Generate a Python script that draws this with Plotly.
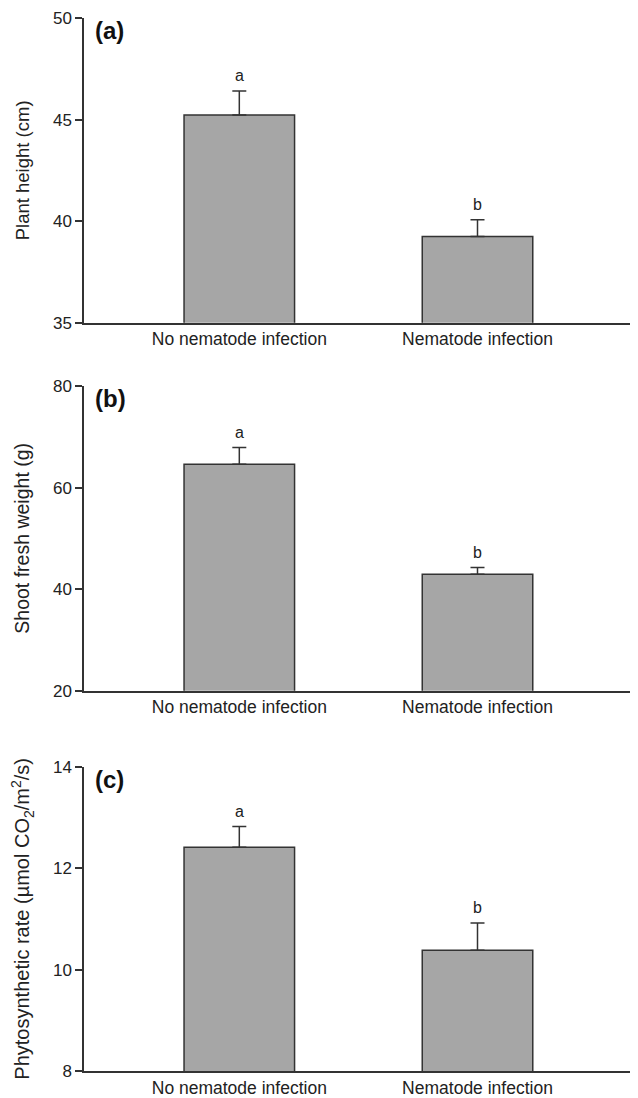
import plotly.graph_objects as go
from plotly.subplots import make_subplots

categories = ["No nematode infection", "Nematode infection"]
plant_height = [45.23, 39.24]
plant_height_err = [1.18, 0.83]
shoot_weight = [64.6, 42.95]
shoot_weight_err = [3.27, 1.3]
photo_rate = [12.41, 10.38]
photo_rate_err = [0.41, 0.54]
sig_letters = ["a", "b"]

panels = [
    dict(vals=plant_height, err=plant_height_err, rng=[35, 50], dtick=5,
         title="Plant height (cm)", tag="(a)", tsize=18.5),
    dict(vals=shoot_weight, err=shoot_weight_err, rng=[20, 80], dtick=20,
         title="Shoot fresh weight (g)", tag="(b)", tsize=19.5),
    dict(vals=photo_rate, err=photo_rate_err, rng=[8, 14], dtick=2,
         title="Phytosynthetic rate (µmol CO<sub>2</sub>/m<sup>2</sup>/s)", tag="(c)", tsize=20),
]

# page body has an 8px margin; lay the figure out in page coordinates minus 8
OFF = 8
W, H = 638 - OFF, 1098 - OFF
px_domains = [(18, 322.7), (386, 690.7), (766.7, 1071)]
domains = [[1 - (b - OFF) / H, 1 - (t - OFF) / H] for t, b in px_domains]

FONT = "Liberation Sans, Arial, sans-serif"
DARK = "#333333"

fig = make_subplots(rows=3, cols=1)

for i, p in enumerate(panels, start=1):
    fig.add_trace(go.Bar(
        x=categories, y=p["vals"], width=0.464,
        marker=dict(color="#a6a6a6", line=dict(color=DARK, width=1.5)),
        error_y=dict(type="data", array=p["err"], arrayminus=[0, 0], symmetric=False,
                     color=DARK, thickness=1.5, width=7),
        showlegend=False,
    ), row=i, col=1)
    base = p["rng"][0]
    fig.update_yaxes(range=p["rng"], dtick=p["dtick"], tick0=base, row=i, col=1,
                     showline=True, linecolor=DARK, linewidth=1.5,
                     ticks="outside", ticklen=7, tickwidth=1.5, tickcolor=DARK,
                     showgrid=False, zeroline=False,
                     tickfont=dict(family=FONT, size=17, color="#222"),
                     title=dict(text=p["title"], font=dict(family=FONT, size=p["tsize"], color="#222"),
                                standoff=18),
                     automargin=False)
    fig.update_xaxes(range=[-0.652, 1.657], row=i, col=1,
                     showline=True, linecolor=DARK, linewidth=1.5,
                     ticks="", showgrid=False, zeroline=False,
                     tickfont=dict(family=FONT, size=17.5, color="#222"),
                     automargin=False)
    yref = "y" if i == 1 else f"y{i}"
    xref = "x" if i == 1 else f"x{i}"
    for c, v, e, s in zip(categories, p["vals"], p["err"], sig_letters):
        fig.add_annotation(x=c, y=v + e, xref=xref, yref=yref, text=s, showarrow=False,
                           yanchor="middle", yshift=15,
                           font=dict(family=FONT, size=16, color="#222"))
    fig.add_annotation(x=0.016, y=1.0, xref=f"{xref} domain", yref=f"{yref} domain",
                       text=f"<b>{p['tag']}</b>", showarrow=False,
                       xanchor="left", yanchor="middle", yshift=-13,
                       font=dict(family=FONT, size=24, color="#111"))

layout_domains = {}
for i, d in enumerate(domains, start=1):
    key = "yaxis" if i == 1 else f"yaxis{i}"
    layout_domains[key] = dict(domain=d)
fig.update_layout(**layout_domains)

fig.update_layout(
    width=W, height=H,
    margin=dict(l=84 - OFF, r=4, t=0, b=0),
    plot_bgcolor="white", paper_bgcolor="white",
)

fig.write_html("out.html")
